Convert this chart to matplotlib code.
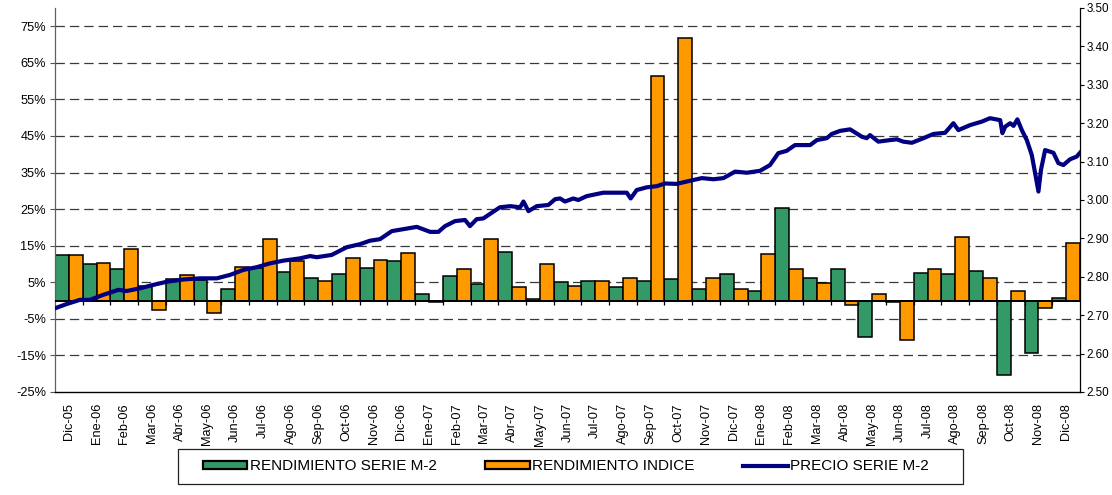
import matplotlib
matplotlib.use("Agg")
import matplotlib.pyplot as plt
import numpy as np
from matplotlib.patches import Rectangle
from matplotlib.lines import Line2D
from matplotlib.patches import Patch

plt.rcParams['font.family'] = ['Liberation Sans', 'DejaVu Sans']

months = ["Dic-05", "Ene-06", "Feb-06", "Mar-06", "Abr-06", "May-06", "Jun-06", "Jul-06",
          "Ago-06", "Sep-06", "Oct-06", "Nov-06", "Dic-06", "Ene-07", "Feb-07", "Mar-07",
          "Abr-07", "May-07", "Jun-07", "Jul-07", "Ago-07", "Sep-07", "Oct-07", "Nov-07",
          "Dic-07", "Ene-08", "Feb-08", "Mar-08", "Abr-08", "May-08", "Jun-08", "Jul-08",
          "Ago-08", "Sep-08", "Oct-08", "Nov-08", "Dic-08"]

rend_serie = [12.4, 10.0, 8.5, 4.1, 5.8, 5.6, 3.1, 9.0, 7.7, 6.3, 7.2, 8.8, 10.8, 1.7, 6.8,
              4.6, 13.3, 0.4, 5.0, 5.4, 3.6, 5.3, 5.9, 3.1, 7.4, 2.7, 25.2, 6.2, 8.5, -9.9,
              -0.3, 7.6, 7.2, 8.1, -20.4, -14.2, 0.8]

rend_indice = [12.4, 10.2, 14.0, -2.5, 7.0, -3.3, 9.2, 16.8, 10.8, 5.4, 11.7, 11.1, 12.9, -0.3,
               8.5, 16.9, 3.8, 9.9, 4.1, 5.4, 6.2, 61.5, 71.8, 6.3, 3.1, 12.6, 8.6, 4.9, -1.2,
               1.7, -10.8, 8.5, 17.3, 6.1, 2.7, -1.9, 15.8]

# price series: time in months since start of Dic-05, price value
precio_t = [0.00, 0.42, 0.90, 1.26, 1.74, 2.29, 2.59, 3.07, 3.55, 4.03, 4.63, 5.23, 5.84, 6.32,
            6.80, 7.28, 7.76, 8.24, 8.84, 9.21, 9.45, 9.99, 10.53, 11.01, 11.37, 11.73, 12.16,
            12.57, 13.06, 13.54, 13.84, 14.08, 14.44, 14.80, 14.98, 15.22, 15.46, 15.77, 16.06,
            16.43, 16.79, 16.91, 17.09, 17.39, 17.81, 18.05, 18.23, 18.41, 18.71, 18.89, 19.19,
            19.79, 20.16, 20.64, 20.78, 21.00, 21.36, 21.72, 22.02, 22.44, 22.92, 23.35, 23.77,
            24.13, 24.55, 24.97, 25.45, 25.81, 26.11, 26.41, 26.71, 27.26, 27.50, 27.86, 28.04,
            28.34, 28.70, 29.12, 29.30, 29.42, 29.72, 30.14, 30.39, 30.62, 30.93, 31.35, 31.71,
            32.13, 32.43, 32.61, 33.03, 33.45, 33.75, 34.12, 34.20, 34.30, 34.48, 34.60, 34.74,
            34.90, 35.08, 35.26, 35.38, 35.50, 35.59, 35.74, 36.04, 36.22, 36.40, 36.64, 36.88,
            37.00]
precio = [2.718, 2.729, 2.740, 2.740, 2.753, 2.766, 2.763, 2.770, 2.779, 2.787, 2.793, 2.796,
          2.796, 2.805, 2.818, 2.825, 2.835, 2.842, 2.848, 2.854, 2.851, 2.857, 2.877, 2.885,
          2.894, 2.898, 2.919, 2.924, 2.930, 2.917, 2.917, 2.932, 2.945, 2.948, 2.932, 2.950,
          2.952, 2.967, 2.981, 2.984, 2.981, 2.996, 2.971, 2.984, 2.987, 3.002, 3.004, 2.996,
          3.004, 3.000, 3.010, 3.019, 3.019, 3.019, 3.004, 3.026, 3.033, 3.036, 3.043, 3.042,
          3.050, 3.057, 3.054, 3.057, 3.074, 3.071, 3.076, 3.091, 3.122, 3.128, 3.143, 3.143,
          3.156, 3.161, 3.172, 3.180, 3.184, 3.165, 3.161, 3.169, 3.152, 3.156, 3.158, 3.152,
          3.149, 3.161, 3.172, 3.175, 3.200, 3.182, 3.195, 3.204, 3.213, 3.208, 3.174, 3.191,
          3.200, 3.193, 3.210, 3.182, 3.156, 3.117, 3.070, 3.022, 3.078, 3.130, 3.123, 3.096,
          3.091, 3.106, 3.113, 3.123]

left_ticks = [-25, -15, -5, 5, 15, 25, 35, 45, 55, 65, 75]
right_ticks = [2.50, 2.60, 2.70, 2.80, 2.90, 3.00, 3.10, 3.20, 3.30, 3.40, 3.50]

GREEN = '#339966'
ORANGE = '#FF9900'
NAVY = '#000080'

W, H = 1112, 495
fig = plt.figure(figsize=(W / 100, H / 100), dpi=100)
ax = fig.add_axes([55 / W, (H - 392) / H, (1080 - 55) / W, (392 - 8) / H])

n = len(months)
idx = np.arange(n)
ax.bar(idx + 0.25, rend_serie, width=0.5, color=GREEN, edgecolor='black', linewidth=1.1, zorder=2)
ax.bar(idx + 0.75, rend_indice, width=0.5, color=ORANGE, edgecolor='black', linewidth=1.1, zorder=2)

ax.set_xlim(0, n)
ax.set_ylim(-25, 80)
ax.set_yticks(left_ticks)
ax.set_yticklabels([f"{v}%" for v in left_ticks])
for v in left_ticks[1:]:
    ax.axhline(v, color='#3a3a3a', lw=0.9, ls=(0, (7.5, 4)), zorder=1)
ax.axhline(0, color='black', lw=1.4, zorder=3)
# category tick marks on the zero line
ax.vlines(np.arange(1, n), 0, -1.2, color='black', lw=0.9, zorder=3)

ax.set_xticks(idx + 0.5)
ax.set_xticklabels(months, rotation=90, va='top', ha='center')
ax.tick_params(axis='x', length=0, pad=8, labelsize=9.2)
ax.tick_params(axis='y', length=3.5, width=0.8, pad=3, labelsize=9.2, color='#555555')

ax.spines['top'].set_visible(False)
ax.spines['right'].set_visible(False)
ax.spines['left'].set_color('#606060')
ax.spines['left'].set_linewidth(0.9)
ax.spines['bottom'].set_color('black')
ax.spines['bottom'].set_linewidth(1.0)

ax2 = ax.twinx()
ax2.plot(precio_t, precio, color=NAVY, lw=3.0, solid_joinstyle='round', zorder=5)
ax2.set_ylim(2.5, 3.5)
ax2.set_yticks(right_ticks)
ax2.set_yticklabels([f"{v:.2f}" for v in right_ticks])
ax2.tick_params(axis='y', length=3.0, width=0.8, pad=1.5, labelsize=8.4)
ax2.spines['top'].set_visible(False)
ax2.spines['left'].set_visible(False)
ax2.spines['bottom'].set_visible(False)
ax2.spines['right'].set_color('black')
ax2.spines['right'].set_linewidth(0.9)

# legend
handles = [Patch(facecolor=GREEN, edgecolor='black', linewidth=1.6),
           Patch(facecolor=ORANGE, edgecolor='black', linewidth=1.6),
           Line2D([0], [0], color=NAVY, lw=3.0)]
labels = ["RENDIMIENTO SERIE M-2", "RENDIMIENTO INDICE", "PRECIO SERIE M-2"]
fig.legend(handles, labels, ncol=3, loc='center left',
           bbox_to_anchor=(203 / W, (H - 466.5) / H), frameon=False,
           fontsize=11, handlelength=2.9, handleheight=0.5, handletextpad=0.15,
           columnspacing=3.2, borderpad=0, borderaxespad=0)
fig.patches.append(Rectangle((178 / W, (H - 484) / H), (963 - 178) / W, 35 / H,
                             transform=fig.transFigure, fill=False,
                             edgecolor='#222222', lw=0.9))

fig.savefig('out.png', dpi=100)
